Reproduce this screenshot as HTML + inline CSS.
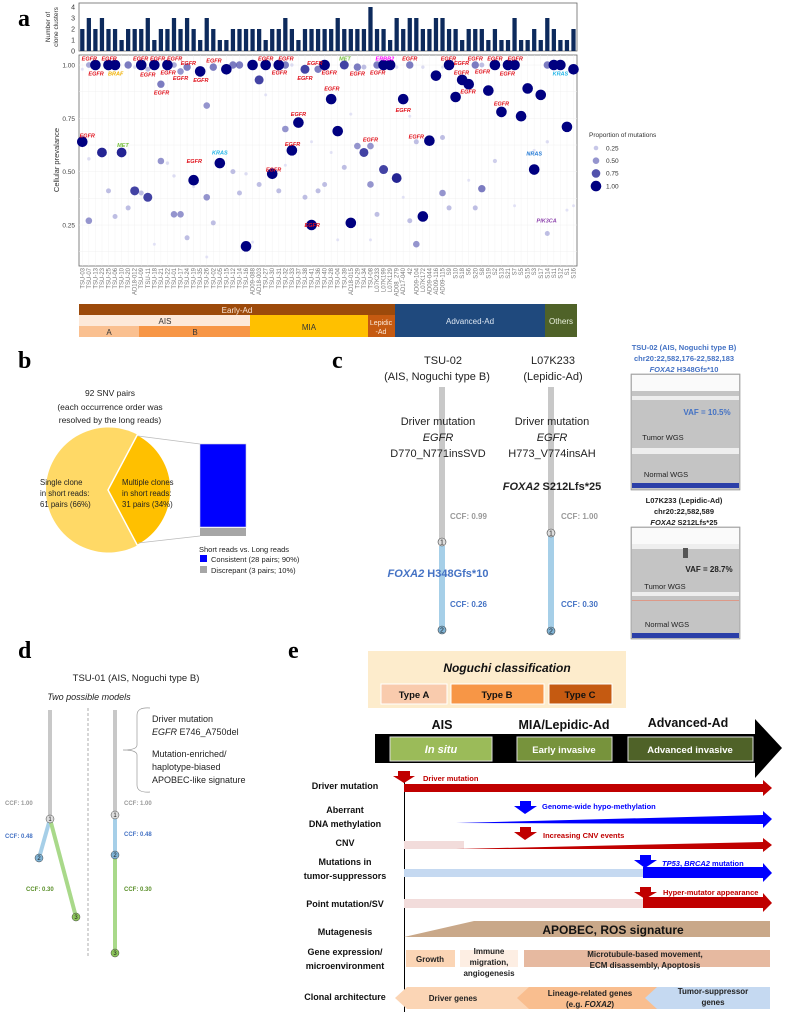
<!DOCTYPE html>
<html><head><meta charset="utf-8"><style>
body{margin:0;background:#fff}
svg{display:block;font-family:"Liberation Sans",sans-serif}
.b{font-weight:bold}
.pl{font-family:"Liberation Serif",serif;font-weight:bold;font-size:24px}
</style></head><body>
<svg id="fig" width="792" height="1012" viewBox="0 0 792 1012" xmlns="http://www.w3.org/2000/svg">
<text class="pl" x="18" y="26">a</text>
<g id="pa"></g>
<text font-size="6.5" fill="#333" transform="translate(50,27) rotate(-90)" text-anchor="middle"><tspan x="0" dy="0">Number of</tspan><tspan x="0" dy="8">clone clusters</tspan></text>
<text font-size="7.5" fill="#333" transform="translate(59,160) rotate(-90)" text-anchor="middle">Cellular prevalance</text>
<g font-size="8" text-anchor="middle">
<rect x="79" y="304" width="316" height="11" fill="#9c4a0b"/><text x="237" y="313" fill="#fbe5d6">Early-Ad</text>
<rect x="79" y="315" width="171" height="11" fill="#fde9d9"/><text x="165" y="324" fill="#333">AIS</text>
<rect x="79" y="326" width="60" height="11" fill="#fac090"/><text x="109" y="335" fill="#333">A</text>
<rect x="139" y="326" width="111" height="11" fill="#f79646"/><text x="195" y="335" fill="#333">B</text>
<rect x="250" y="315" width="118" height="22" fill="#ffc000"/><text x="309" y="330" fill="#333">MIA</text>
<rect x="368" y="315" width="27" height="22" fill="#c55a11"/><text x="381" y="325" fill="#fde9d9" font-size="7">Lepidic</text><text x="381" y="334" fill="#fde9d9" font-size="7">-Ad</text>
<rect x="395" y="304" width="150" height="33" fill="#1f497d"/><text x="470" y="324" fill="#dce6f2">Advanced-Ad</text>
<rect x="545" y="304" width="32" height="33" fill="#4f6228"/><text x="561" y="324" fill="#ebf1de">Others</text>
</g>
<g font-size="6.5" fill="#333">
<text x="589" y="137">Proportion of mutations</text>
<g id="leg"></g>
</g>

<text class="pl" x="18" y="368">b</text>
<g font-size="8.5" fill="#222" text-anchor="middle">
<text x="110" y="396">92 SNV pairs</text><text x="110" y="410">(each occurrence order was</text><text x="110" y="423">resolved by the long reads)</text></g>
<g>
<path d="M108,490 L137.4,434.6 A62.5,62.5 0 1 0 137.4,545.4 Z" fill="#ffd966"/>
<path d="M108,490 L137.4,434.6 A62.5,62.5 0 0 1 137.4,545.4 Z" fill="#ffc000" stroke="#fff" stroke-width="1.5"/>
<g font-size="7.8" fill="#222"><text x="40" y="485">Single clone</text><text x="40" y="496">in short reads:</text><text x="40" y="507">61 pairs (66%)</text>
<text x="122" y="485">Multiple clones</text><text x="122" y="496">in short reads:</text><text x="122" y="507">31 pairs (34%)</text></g>
</g>
<line x1="138" y1="436" x2="200" y2="444" stroke="#bbb" stroke-width="0.8"/>
<line x1="138" y1="543" x2="200" y2="536" stroke="#bbb" stroke-width="0.8"/>
<rect x="200" y="444" width="46" height="83" fill="#0000ff" stroke="#ccd" stroke-width="0.6"/>
<rect x="200" y="528" width="46" height="8" fill="#a6a6a6"/>
<g font-size="7.5" fill="#222">
<text x="199" y="552">Short reads vs. Long reads</text>
<rect x="200" y="555" width="7" height="7" fill="#0000ff"/><text x="211" y="562">Consistent (28 pairs; 90%)</text>
<rect x="200" y="566" width="7" height="7" fill="#a6a6a6"/><text x="211" y="573">Discrepant (3 pairs; 10%)</text></g>

<text class="pl" x="332" y="368">c</text>
<g fill="#222">
<g font-size="11" text-anchor="middle"><text x="443" y="364">TSU-02</text><text x="437" y="380">(AIS, Noguchi type B)</text>
<text x="553" y="364">L07K233</text><text x="553" y="380">(Lepidic-Ad)</text></g>
<rect x="439" y="387" width="6" height="155" fill="#c8c8c8"/><rect x="439" y="546" width="6" height="82" fill="#a6cfe8"/>
<rect x="548" y="387" width="6" height="145" fill="#c8c8c8"/><rect x="548" y="535" width="6" height="95" fill="#a6cfe8"/>
<g font-size="11" text-anchor="middle"><text x="438" y="425">Driver mutation</text><text x="438" y="441" font-style="italic">EGFR</text><text x="438" y="457">D770_N771insSVD</text>
<text x="552" y="425">Driver mutation</text><text x="552" y="441" font-style="italic">EGFR</text><text x="552" y="457">H773_V774insAH</text>
<text x="552" y="490" class="b"><tspan font-style="italic">FOXA2</tspan> S212Lfs*25</text>
<text x="438" y="577" class="b" fill="#4472c4"><tspan font-style="italic">FOXA2</tspan> H348Gfs*10</text></g>
<g font-size="8" class="b"><text x="450" y="519" fill="#999">CCF: 0.99</text><text x="561" y="519" fill="#999">CCF: 1.00</text>
<text x="450" y="607" fill="#4472c4">CCF: 0.26</text><text x="561" y="607" fill="#4472c4">CCF: 0.30</text></g>
<g font-size="7" text-anchor="middle"><circle cx="442" cy="542" r="4" fill="#ddd" stroke="#444" stroke-width="0.6"/><text x="442" y="544.5">1</text>
<circle cx="442" cy="630" r="4" fill="#7fb3d5" stroke="#444" stroke-width="0.6"/><text x="442" y="632.5">2</text>
<circle cx="551" cy="533" r="4" fill="#ddd" stroke="#444" stroke-width="0.6"/><text x="551" y="535.5">1</text>
<circle cx="551" cy="631" r="4" fill="#7fb3d5" stroke="#444" stroke-width="0.6"/><text x="551" y="633.5">2</text></g>
</g>
<g font-size="7.5" class="b" text-anchor="middle">
<text x="684" y="350" fill="#4472c4">TSU-02 (AIS, Noguchi type B)</text><text x="684" y="361" fill="#4472c4">chr20:22,582,176-22,582,183</text><text x="684" y="372" fill="#4472c4"><tspan font-style="italic">FOXA2</tspan> H348Gfs*10</text>
<rect x="631" y="374" width="109" height="116" fill="#c4c4c4" stroke="#888" stroke-width="0.6"/>
<rect x="632" y="375" width="107" height="16" fill="#fafafa"/><rect x="632" y="396" width="107" height="4" fill="#eee"/>
<rect x="632" y="448" width="107" height="6" fill="#eee"/><rect x="632" y="483" width="107" height="5" fill="#2b3fa8"/>
<text x="707" y="415" fill="#4472c4" font-size="8">VAF = 10.5%</text>
<text x="663" y="440" fill="#222" font-weight="normal" font-size="7.5">Tumor WGS</text><text x="666" y="477" fill="#222" font-weight="normal" font-size="7.5">Normal WGS</text>
<text x="684" y="503" fill="#222">L07K233 (Lepidic-Ad)</text><text x="684" y="514" fill="#222">chr20:22,582,589</text><text x="684" y="525" fill="#222"><tspan font-style="italic">FOXA2</tspan> S212Lfs*25</text>
<rect x="631" y="527" width="109" height="112" fill="#c4c4c4" stroke="#888" stroke-width="0.6"/>
<rect x="632" y="528" width="107" height="16" fill="#fafafa"/><rect x="632" y="544" width="107" height="5" fill="#eee"/>
<rect x="683" y="548" width="5" height="10" fill="#555"/><rect x="632" y="600" width="107" height="1" fill="#d98"/>
<rect x="632" y="592" width="107" height="4" fill="#eee"/><rect x="632" y="633" width="107" height="5" fill="#2b3fa8"/>
<text x="709" y="572" fill="#222" font-size="8">VAF = 28.7%</text>
<text x="665" y="589" fill="#222" font-weight="normal">Tumor WGS</text><text x="667" y="627" fill="#222" font-weight="normal">Normal WGS</text>
</g>

<text class="pl" x="18" y="658">d</text>
<g fill="#222">
<text x="136" y="681" font-size="9.5" text-anchor="middle">TSU-01 (AIS, Noguchi type B)</text>
<text x="89" y="700" font-size="9" font-style="italic" text-anchor="middle">Two possible models</text>
<line x1="88" y1="708" x2="88" y2="958" stroke="#999" stroke-dasharray="3,2" stroke-width="0.8"/>
<line x1="50" y1="710" x2="50" y2="819" stroke="#c8c8c8" stroke-width="4"/>
<line x1="50" y1="819" x2="39" y2="858" stroke="#a6cfe8" stroke-width="4"/>
<line x1="50" y1="819" x2="76" y2="917" stroke="#a9d98a" stroke-width="4"/>
<line x1="115" y1="710" x2="115" y2="815" stroke="#c8c8c8" stroke-width="4"/>
<line x1="115" y1="815" x2="115" y2="855" stroke="#a6cfe8" stroke-width="4"/>
<line x1="115" y1="855" x2="115" y2="953" stroke="#a9d98a" stroke-width="4"/>
<g font-size="6" text-anchor="middle">
<circle cx="50" cy="819" r="4" fill="#ddd" stroke="#444" stroke-width="0.5"/><text x="50" y="821">1</text>
<circle cx="39" cy="858" r="4" fill="#7fb3d5" stroke="#444" stroke-width="0.5"/><text x="39" y="860">2</text>
<circle cx="76" cy="917" r="4" fill="#8cc65a" stroke="#444" stroke-width="0.5"/><text x="76" y="919">3</text>
<circle cx="115" cy="815" r="4" fill="#ddd" stroke="#444" stroke-width="0.5"/><text x="115" y="817">1</text>
<circle cx="115" cy="855" r="4" fill="#7fb3d5" stroke="#444" stroke-width="0.5"/><text x="115" y="857">2</text>
<circle cx="115" cy="953" r="4" fill="#8cc65a" stroke="#444" stroke-width="0.5"/><text x="115" y="955">3</text></g>
<g font-size="6" class="b"><text x="5" y="805" fill="#999">CCF: 1.00</text><text x="5" y="838" fill="#4472c4">CCF: 0.48</text><text x="26" y="891" fill="#5a8f29">CCF: 0.30</text>
<text x="124" y="805" fill="#999">CCF: 1.00</text><text x="124" y="836" fill="#4472c4">CCF: 0.48</text><text x="124" y="891" fill="#5a8f29">CCF: 0.30</text></g>
<path d="M150,708 Q137,707 137,715 L137,745 Q137,750 123,750 Q137,750 137,755 L137,785 Q137,793 150,792" fill="none" stroke="#999" stroke-width="0.7"/>
<g font-size="9"><text x="152" y="722">Driver mutation</text><text x="152" y="735"><tspan font-style="italic">EGFR</tspan> E746_A750del</text>
<text x="152" y="757">Mutation-enriched/</text><text x="152" y="770">haplotype-biased</text><text x="152" y="783">APOBEC-like signature</text></g>
</g>

<text class="pl" x="288" y="658">e</text>
<g class="b">
<rect x="368" y="651" width="258" height="57" fill="#fdeccc"/>
<text x="507" y="672" font-size="12" font-style="italic" text-anchor="middle" fill="#111">Noguchi classification</text>
<g font-size="9.5" text-anchor="middle" fill="#111">
<rect x="381" y="684" width="66" height="20" fill="#f9cbad" stroke="#fff"/><text x="414" y="698">Type A</text>
<rect x="451" y="684" width="93" height="20" fill="#f79646" stroke="#fff"/><text x="497" y="698">Type B</text>
<rect x="549" y="684" width="63" height="20" fill="#c55a11" stroke="#fff"/><text x="580" y="698">Type C</text></g>
<g font-size="12.5" text-anchor="middle" fill="#111"><text x="442" y="729">AIS</text><text x="564" y="729">MIA/Lepidic-Ad</text><text x="688" y="727">Advanced-Ad</text></g>
<rect x="375" y="734" width="381" height="29" fill="#000"/><polygon points="755,719 782,748 755,778" fill="#000"/>
<g font-size="9.5" text-anchor="middle" fill="#fff">
<rect x="390" y="737" width="102" height="24" fill="#9bbb59" stroke="#ddd"/><text x="441" y="753" font-style="italic" font-size="11">In situ</text>
<rect x="517" y="737" width="95" height="24" fill="#77933c" stroke="#ddd"/><text x="564" y="753">Early invasive</text>
<rect x="628" y="737" width="125" height="24" fill="#4f6228" stroke="#ddd"/><text x="690" y="753">Advanced invasive</text></g>
<line x1="404.5" y1="773" x2="404.5" y2="1012" stroke="#000" stroke-width="1"/>
<g font-size="9" text-anchor="middle" fill="#111">
<text x="345" y="789">Driver mutation</text><text x="345" y="813">Aberrant</text><text x="345" y="827">DNA methylation</text>
<text x="345" y="846">CNV</text><text x="345" y="865">Mutations in</text><text x="345" y="879">tumor-suppressors</text>
<text x="345" y="907">Point mutation/SV</text><text x="345" y="935">Mutagenesis</text>
<text x="345" y="955">Gene expression/</text><text x="345" y="969">microenvironment</text><text x="345" y="1000">Clonal architecture</text></g>
<polygon points="404,784 763,784 763,780 772,788 763,796 763,792 404,792" fill="#c00000"/>
<polygon points="398,771 410,771 410,776 415,776 404,783 393,776 398,776" fill="#c00000"/>
<text x="423" y="781" font-size="7.5" fill="#c00000">Driver mutation</text>
<polygon points="456,823 763,815 763,811 772,819 763,828 763,824" fill="#0000ff"/>
<polygon points="520,801 531,801 531,806 537,806 525,814 514,806 520,806" fill="#0000ff"/>
<text x="542" y="809" font-size="7.5" fill="#0000ff">Genome-wide hypo-methylation</text>
<rect x="404" y="841" width="60" height="8" fill="#f2dcdb"/>
<polygon points="456,849 763,842 763,838 772,845 763,852 763,849" fill="#c00000"/>
<polygon points="520,827 531,827 531,832 537,832 525,840 514,832 520,832" fill="#c00000"/>
<text x="543" y="838" font-size="7.5" fill="#c00000">Increasing CNV events</text>
<rect x="404" y="869" width="243" height="8" fill="#c5d9f1"/>
<polygon points="643,867 763,867 763,863 772,873 763,882 763,878 643,878" fill="#0000ff"/>
<polygon points="640,855 651,855 651,860 657,860 645,868 634,860 640,860" fill="#0000ff"/>
<text x="662" y="866" font-size="7.5" fill="#0000ff"><tspan font-style="italic">TP53</tspan>, <tspan font-style="italic">BRCA2</tspan> mutation</text>
<rect x="404" y="899" width="243" height="9" fill="#f2dcdb"/>
<polygon points="643,897 763,897 763,893 772,903 763,912 763,908 643,908" fill="#c00000"/>
<polygon points="640,887 651,887 651,892 657,892 645,899 634,892 640,892" fill="#c00000"/>
<text x="663" y="895" font-size="7.5" fill="#c00000">Hyper-mutator appearance</text>
<polygon points="404,937 474,921 770,921 770,937" fill="#c9a889"/>
<text x="613" y="934" font-size="12" text-anchor="middle" fill="#111">APOBEC, ROS signature</text>
<rect x="406" y="950" width="49" height="17" fill="#fbd5b5"/><text x="430" y="962" font-size="8" text-anchor="middle" fill="#222">Growth</text>
<rect x="460" y="950" width="58" height="17" fill="#fdeee3"/>
<g font-size="8" text-anchor="middle" fill="#222"><text x="489" y="954">Immune</text><text x="489" y="965">migration,</text><text x="489" y="976">angiogenesis</text></g>
<rect x="524" y="950" width="246" height="17" fill="#e6b9a0"/>
<g font-size="8" text-anchor="middle" fill="#222"><text x="645" y="957">Microtubule-based movement,</text><text x="645" y="968">ECM disassembly, Apoptosis</text></g>
<polygon points="395,998 407,987 540,987 540,1009 407,1009" fill="#fbd5b5"/>
<polygon points="517,998 529,987 663,987 663,1009 529,1009" fill="#f9be8f"/>
<polygon points="645,998 657,987 770,987 770,1009 657,1009" fill="#c5d9f1"/>
<g font-size="8" text-anchor="middle" fill="#222"><text x="453" y="1001">Driver genes</text>
<text x="590" y="996">Lineage-related genes</text><text x="590" y="1007">(e.g. <tspan font-style="italic">FOXA2</tspan>)</text>
<text x="713" y="994">Tumor-suppressor</text><text x="713" y="1005">genes</text></g>
</g>
</svg>
<script>
const samples=["TSU-03","TSU-07","TSU-13","TSU-23","TSU-25","TSU-06","TSU-10","TSU-20","AD18-012","TSU-09","TSU-11","TSU-18","TSU-21","TSU-22","TSU-01","TSU-17","TSU-24","TSU-19","TSU-35","TSU-26","TSU-02","TSU-05","TSU-15","TSU-12","TSU-14","TSU-16","AD09-088","AD18-003","TSU-27","TSU-30","TSU-31","TSU-32","TSU-33","TSU-37","TSU-38","TSU-41","TSU-36","TSU-40","TSU-28","TSU-04","TSU-39","AD18-015","TSU-29","TSU-34","TSU-08","L07K233","L07K199","L07K129","AD08_279","AD17-040","42","AD09-104","L07K172","AD09-044","AD09-116","AD09-115","S9","S10","S18","S6","S20","S8","S19","S2","S13","S21","S7","S5","S15","S3","S17","S14","S11","S12","S1","S16"];
const cloneCounts=[2,3,2,3,2,2,1,2,2,2,3,1,2,2,3,2,3,2,1,3,2,1,1,2,2,2,2,2,1,2,2,3,2,1,2,2,2,2,2,3,2,2,2,2,4,2,2,1,3,2,3,3,2,2,3,3,2,2,1,2,2,2,1,2,1,1,3,1,1,2,1,3,2,1,1,2];
const countTicks=[0,1,2,3,4];
const ccfTicks=[0.25,0.5,0.75,1.0];
const ccfTickLabels=["0.25","0.50","0.75","1.00"];
const dotSample=[0,0,1,1,1,2,3,4,4,5,5,6,7,7,8,8,9,9,10,10,11,11,12,12,13,13,14,14,14,15,15,16,16,17,17,18,19,19,19,20,20,21,22,23,23,24,24,25,25,26,26,27,27,28,28,29,30,30,31,31,31,32,32,33,34,34,35,35,36,36,37,37,38,38,39,39,40,40,41,41,42,42,43,43,44,44,44,45,45,46,46,47,48,48,49,49,50,50,50,51,51,52,52,53,54,55,55,55,56,56,57,58,59,59,60,60,61,61,62,63,63,64,65,66,66,67,68,69,69,70,71,71,71,72,73,74,74,75,75];
const dotValue=[0.64,0.98,1.0,0.27,0.56,1.0,0.59,1.0,0.41,1.0,0.29,0.59,1.0,0.33,0.41,0.99,1.0,0.40,0.38,0.98,1.0,0.16,0.91,0.55,1.0,0.54,1.0,0.30,0.48,0.97,0.30,0.99,0.19,0.46,0.43,0.97,0.81,0.38,0.10,0.99,0.26,0.54,0.98,1.0,0.50,1.0,0.40,0.15,0.49,1.0,0.17,0.93,0.44,1.0,0.86,0.49,1.0,0.41,1.0,0.70,0.53,0.60,1.0,0.73,0.98,0.38,0.25,0.64,0.98,0.41,1.0,0.44,0.84,0.59,0.69,0.18,1.0,0.52,0.26,0.77,0.99,0.62,0.99,0.59,0.62,0.44,0.18,1.0,0.30,1.0,0.51,1.0,0.47,0.99,0.84,0.38,1.0,0.27,0.76,0.64,0.16,0.29,0.99,0.645,0.95,0.66,0.40,0.99,1.0,0.33,0.85,0.93,0.91,0.46,1.0,0.33,1.0,0.42,0.88,1.0,0.55,0.78,1.0,1.0,0.34,0.76,0.89,0.51,0.60,0.86,1.0,0.21,0.64,1.0,1.0,0.71,0.32,0.98,0.34];
const dotProp=[1,0.05,0.4,0.5,0.1,1,0.9,1,0.3,1,0.3,0.9,0.6,0.3,0.8,0.1,1,0.3,0.8,0.3,1,0.05,0.6,0.5,1,0.1,0.4,0.5,0.1,0.5,0.5,0.6,0.3,1,0.05,1,0.5,0.5,0.05,0.6,0.3,1,1,0.6,0.3,0.6,0.3,1,0.1,1,0.05,0.8,0.3,1,0.05,1,1,0.3,0.6,0.5,0.05,1,0.1,1,0.8,0.3,1,0.05,0.6,0.3,1,0.3,1,0.05,1,0.05,0.8,0.3,1,0.05,0.6,0.5,0.3,0.8,0.5,0.5,0.05,0.6,0.3,1,0.8,1,0.9,0.1,1,0.05,0.6,0.3,0.05,0.3,0.5,1,0.1,1,1,0.3,0.5,0.05,1,0.3,1,1,1,0.05,0.6,0.3,0.3,0.6,1,1,0.2,1,1,1,0.05,1,1,1,0.05,1,0.6,0.3,0.1,1,1,1,0.05,1,0.05];
const geneText=["EGFR","EGFR","EGFR","EGFR","BRAF","MET","EGFR","EGFR","EGFR","EGFR","EGFR","EGFR","EGFR","EGFR","EGFR","EGFR","EGFR","KRAS","EGFR","EGFR","EGFR","EGFR","EGFR","EGFR","EGFR","EGFR","EGFR","EGFR","EGFR","MET","EGFR","EGFR","EGFR","ERBB2","EGFR","EGFR","EGFR","EGFR","EGFR","EGFR","EGFR","EGFR","EGFR","EGFR","EGFR","EGFR","EGFR","KRAS","NRAS","PIK3CA"];
const geneSample=[0.76,1.07,2.1,4.1,5.1,6.2,8.9,11.5,10,12.1,13.1,14.1,15,16.2,18.1,20.1,17.1,21,28,29.2,30.1,31.1,32.1,33,34,35.5,35.1,37.7,38.1,40.1,42,44,45.1,46.2,50,49,51,55.9,57.9,60,57.9,61.1,58.9,63,66.1,64.9,64,73,69,70.9];
const geneValue=[0.67,1.03,0.96,1.03,0.96,0.625,1.03,1.03,0.955,0.87,0.965,1.03,0.94,1.01,0.93,1.02,0.55,0.59,1.03,0.51,0.965,1.03,0.63,0.77,0.94,1.01,0.25,0.965,0.89,1.03,0.96,0.65,0.965,1.03,1.03,0.79,0.665,1.03,1.01,1.03,0.965,0.97,0.875,1.03,1.03,0.96,0.82,0.96,0.585,0.27];
const legendProps=[0.25,0.5,0.75,1.0];
const NS="http://www.w3.org/2000/svg";
function mk(tag,attrs,parent){const e=document.createElementNS(NS,tag);for(const k in attrs)e.setAttribute(k,attrs[k]);parent.appendChild(e);return e;}
const X0=79,X1=577,Y0=55,Y1=266,BY0=3,BY1=51;
const xS=i=>82.3+i*((X1-3.5-82.3)/(samples.length-1));
const yC=v=>65+(1-v)*(225-65)/0.75;
const yB=c=>BY1-c*(BY1-7)/4;
const rP=p=>1.3+4.0*p;
function colP(p){const a=[195,195,238],b=[0,0,128];return "rgb("+a.map((x,k)=>Math.round(x+(b[k]-x)*p)).join(",")+")";}
const pa=document.getElementById("pa");
const bpbg=mk("rect",{x:X0,y:BY0,width:X1-X0,height:BY1-BY0,fill:"#fff",stroke:"#666","stroke-width":0.8},pa);


countTicks.forEach(t=>{const tx=mk("text",{x:75,y:yB(t)+2.5,"font-size":7,"text-anchor":"end",fill:"#333"},pa);tx.textContent=t;

});
const bw=(X1-X0)/samples.length*0.65;
cloneCounts.forEach((c,i)=>{const r=mk("rect",{x:xS(i)-bw/2,y:yB(c),width:bw,height:yB(0)-yB(c),fill:"#0d2a5c"},pa);

});
const dp=mk("rect",{x:X0,y:Y0,width:X1-X0,height:Y1-Y0,fill:"#fff",stroke:"#666","stroke-width":0.8},pa);


for(let v=0.125;v<1.05;v+=0.125){mk("line",{x1:X0,x2:X1,y1:yC(v),y2:yC(v),stroke:"#f0f0f0","stroke-width":0.5},pa);}
samples.forEach((s,i)=>{mk("line",{x1:xS(i),x2:xS(i),y1:Y0,y2:Y1,stroke:"#f0f0f0","stroke-width":0.4},pa);
const t=mk("text",{transform:"translate("+(xS(i)+2)+",268) rotate(-90)","font-size":6,"text-anchor":"end",fill:"#777"},pa);t.textContent=s;

});
ccfTicks.forEach((t,k)=>{const tx=mk("text",{x:75,y:yC(t)+2.5,"font-size":6.5,"text-anchor":"end",fill:"#444"},pa);tx.textContent=ccfTickLabels[k];

});
const n=Math.min(dotSample.length,dotValue.length,dotProp.length);
const order=[...Array(n).keys()].sort((a,b)=>dotProp[a]-dotProp[b]);
order.forEach(k=>{const p=dotProp[k];const c=mk("circle",{cx:xS(dotSample[k]),cy:yC(dotValue[k]),r:rP(p),fill:colP(p),"fill-opacity":0.35+0.65*p},pa);

});
const geneCol={EGFR:"#e0101a",BRAF:"#f0b000",MET:"#7ac142",KRAS:"#1fb5e8",ERBB2:"#ff00ff",NRAS:"#1f77d4",PIK3CA:"#8e44ad"};
geneText.forEach((g,k)=>{const t=mk("text",{x:xS(geneSample[k]),y:yC(geneValue[k])+2,"font-size":5.5,"font-weight":"bold","font-style":"italic","text-anchor":"middle",fill:geneCol[g]},pa);t.textContent=g;

});
const leg=document.getElementById("leg");
legendProps.forEach((p,k)=>{const y=148+k*12.7;const c=mk("circle",{cx:596,cy:y,r:rP(p),fill:colP(p),"fill-opacity":0.35+0.65*p},leg);


const t=mk("text",{x:606,y:y+2.3,"font-size":6.5,fill:"#333"},leg);t.textContent=p.toFixed(2);

});
</script>
</body></html>
